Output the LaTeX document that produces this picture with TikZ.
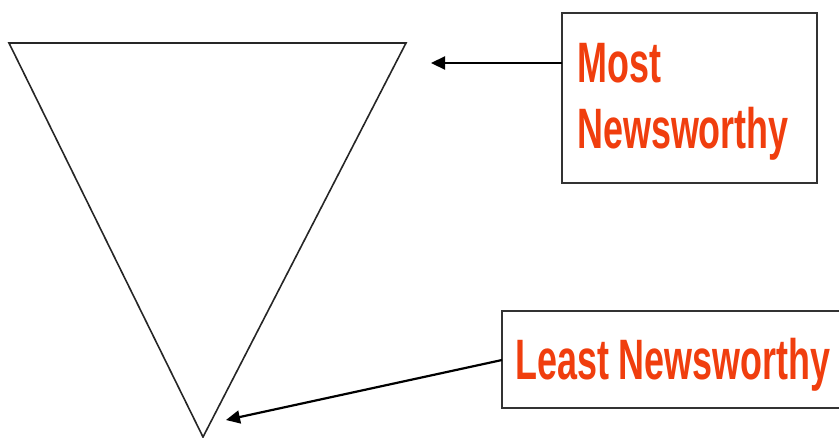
\documentclass[tikz,border=0pt]{standalone}
\usepackage{fontspec}
\newfontfamily\newsfont[FakeStretch=0.63]{Liberation Sans}
\usetikzlibrary{arrows.meta}
\definecolor{newsred}{RGB}{240,62,14}
\tikzset{
  tri/.style={draw=black!85, line width=1.6pt, line join=miter},
  labelbox/.style={draw=black!80, line width=2pt, rectangle, inner sep=0pt},
  newstext/.style={text=newsred, font=\newsfont\bfseries\fontsize{57}{66}\selectfont, inner sep=0pt, anchor=base west},
  pointer/.style={draw=black, line width=2.2pt, -{Triangle[length=14pt,width=13pt]}},
}
\begin{document}
\begin{tikzpicture}[x=1pt,y=-1pt]
\useasboundingbox (0,0) rectangle (839,437);
\clip (0,0) rectangle (839,437);
% inverted triangle
\coordinate (tl) at (9,43);
\coordinate (tr) at (406,43);
\coordinate (bt) at (203,437);
\draw[tri] (bt) -- (tl) -- (tr) -- cycle;
% box 1
\node[labelbox, minimum width=255pt, minimum height=170pt] (b1) at (689.5,98) {};
\node[newstext] (t1a) at (577,82) {Most};
\node[newstext] (t1b) at (577,148) {Newsworthy};
% box 2
\node[labelbox, minimum width=343pt, minimum height=97pt] (b2) at (673.5,359.5) {};
\node[newstext] (t2) at (515,379) {Least Newsworthy};
% arrows
\coordinate (a1s) at (562,63);
\coordinate (a1e) at (431,63);
\coordinate (a2s) at (502,360);
\coordinate (a2e) at (226,420);
\draw[pointer] (a1s) -- (a1e);
\draw[pointer] (a2s) -- (a2e);
\end{tikzpicture}
\end{document}
